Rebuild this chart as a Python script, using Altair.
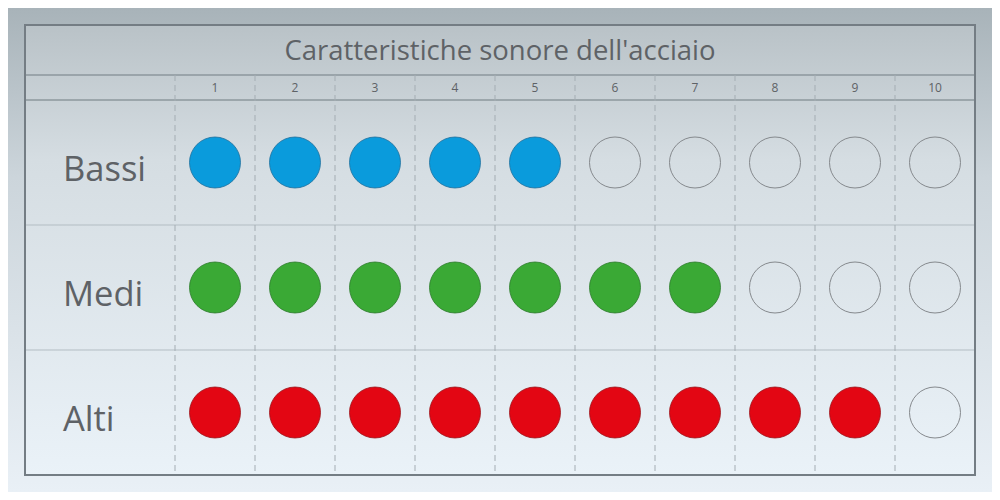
import altair as alt
import pandas as pd

# ---- data ----
title_text = "Caratteristiche sonore dell'acciaio"
rows = ["Bassi", "Medi", "Alti"]
levels = [5, 7, 9]
columns = [1, 2, 3, 4, 5, 6, 7, 8, 9, 10]

# ---- styles ----
fill_colors = ["#0a9bdc", "#3aa935", "#e30613"]
stroke_colors = ["#1d6f9c", "#2a7a28", "#9a1016"]
text_color = "#5e6266"
FONT = "Open Sans"

W, H = 984, 484

cells = pd.DataFrame(
    [{"row": r, "col": c, "filled": c <= lv} for r, lv in zip(rows, levels) for c in columns]
)
cols_df = pd.DataFrame({"col": columns})
rows_df = pd.DataFrame({"row": rows})

xscale = alt.Scale(type="band", domain=columns, range=[167, 967], paddingInner=0, paddingOuter=0)
yscale = alt.Scale(type="band", domain=rows, range=[92, 467], paddingInner=0, paddingOuter=0)

one = alt.Data(values=[{}])

bg = alt.Chart(one).mark_rect(
    fill=alt.LinearGradient(
        gradient="linear",
        stops=[alt.GradientStop(offset=0, color="#a8b3b9"),
               alt.GradientStop(offset=0.35, color="#ccd5db"),
               alt.GradientStop(offset=1, color="#e9f0f6")],
        x1=0, x2=0, y1=0, y2=1,
    )
).encode(x=alt.value(0), x2=alt.value(W), y=alt.value(0), y2=alt.value(H))

box = alt.Chart(one).mark_rect(
    fill=alt.LinearGradient(
        gradient="linear",
        stops=[alt.GradientStop(offset=0, color="#b9c2c7"),
               alt.GradientStop(offset=0.3, color="#d5dde2"),
               alt.GradientStop(offset=1, color="#eaf2f8")],
        x1=0, x2=0, y1=0, y2=1,
    ),
).encode(x=alt.value(17), x2=alt.value(967), y=alt.value(17), y2=alt.value(467))

header_top = alt.Chart(one).mark_rule(color="#8d979d", strokeWidth=1.5).encode(
    x=alt.value(17), x2=alt.value(967), y=alt.value(67)
)

header_bottom = alt.Chart(rows_df.head(1)).mark_rule(color="#8d979d", strokeWidth=1.5).encode(
    x=alt.value(17), x2=alt.value(967),
    y=alt.Y("row:N", scale=yscale, axis=None, bandPosition=0),
)

row_lines = alt.Chart(pd.DataFrame({"row": rows[1:]})).mark_rule(
    color="#b3bdc3", strokeWidth=1
).encode(
    x=alt.value(17), x2=alt.value(967),
    y=alt.Y("row:N", scale=yscale, axis=None, bandPosition=0),
)

dashes = alt.Chart(cols_df).mark_rule(
    color="#a4adb3", strokeWidth=1, strokeDash=[6, 4]
).encode(
    x=alt.X("col:O", scale=xscale, axis=None, bandPosition=0),
    y=alt.value(67), y2=alt.value(467),
)

border = alt.Chart(one).mark_rect(
    fill=None, stroke="#747d84", strokeWidth=2
).encode(x=alt.value(17), x2=alt.value(967), y=alt.value(17), y2=alt.value(467))

title = alt.Chart(pd.DataFrame({"t": [title_text]})).mark_text(
    font=FONT, fontSize=27.5, color=text_color, baseline="alphabetic", align="center"
).encode(text="t:N", x=alt.value(492), y=alt.value(52))

header = alt.Chart(cols_df).mark_text(
    font=FONT, fontSize=12, color=text_color, baseline="middle", align="center"
).encode(
    x=alt.X("col:O", scale=xscale, axis=None),
    y=alt.value(80),
    text="col:O",
)

labels = alt.Chart(rows_df).mark_text(
    font=FONT, fontSize=34.5, color=text_color, baseline="alphabetic", align="left", dy=18
).encode(
    x=alt.value(55),
    y=alt.Y("row:N", scale=yscale, axis=None),
    text="row:N",
)

filled = alt.Chart(cells).transform_filter("datum.filled").mark_point(
    shape="circle", filled=True, size=2600, strokeWidth=0.8, opacity=1
).encode(
    x=alt.X("col:O", scale=xscale, axis=None),
    y=alt.Y("row:N", scale=yscale, axis=None),
    fill=alt.Fill("row:N", scale=alt.Scale(domain=rows, range=fill_colors), legend=None),
    stroke=alt.Stroke("row:N", scale=alt.Scale(domain=rows, range=stroke_colors), legend=None),
)

empty = alt.Chart(cells).transform_filter("!datum.filled").mark_point(
    shape="circle", filled=False, size=2600, stroke="#85898d", strokeWidth=1, opacity=1
).encode(
    x=alt.X("col:O", scale=xscale, axis=None),
    y=alt.Y("row:N", scale=yscale, axis=None),
)

chart = alt.layer(
    bg, box, header_top, header_bottom, row_lines, dashes, border, title, header, labels, filled, empty
).properties(
    width=W, height=H, padding=0, autosize=alt.AutoSizeParams(type="none")
).configure_view(stroke=None)

chart.save("out.html", embed_options={"renderer": "svg", "actions": False})
